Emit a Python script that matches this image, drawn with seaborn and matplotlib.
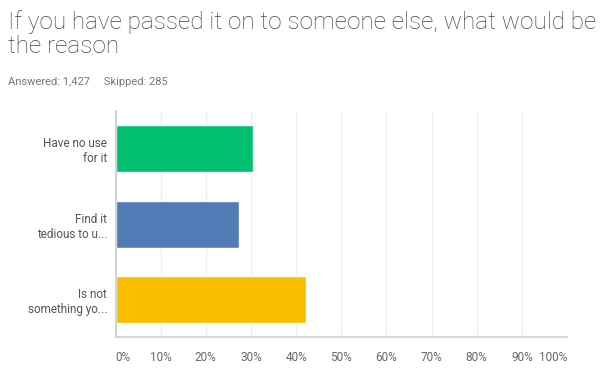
import matplotlib
matplotlib.use("Agg")
import matplotlib.pyplot as plt
import seaborn as sns
import pandas as pd

# --- data ---
answers = ["Have no use\nfor it", "Find it\ntedious to u...", "Is not\nsomething yo..."]
percent = [30.5, 27.4, 42.1]
bar_colors = ["#00BF6F", "#507CB6", "#F9BE00"]
x_ticks = [0, 10, 20, 30, 40, 50, 60, 70, 80, 90, 100]
x_labels = [f"{t}%" for t in x_ticks]

title = "If you have passed it on to someone else, what would be\nthe reason"
answered = 1427
skipped = 285

sns.set_theme(style="white")
plt.rcParams["font.family"] = ["Roboto", "DejaVu Sans"]

df = pd.DataFrame({"answer": answers, "percent": percent})

fig = plt.figure(figsize=(6, 3.85), dpi=100)
ax = fig.add_axes([0.1925, 0.1234, 0.7525, 0.5891])

sns.barplot(data=df, x="percent", y="answer", hue="answer", palette=bar_colors,
            width=0.62, legend=False, ax=ax, saturation=1)

ax.set_xlim(0, 100)
ax.set_ylim(2.5, -0.5)
ax.set_xticks(x_ticks)
ax.set_xticklabels(x_labels)
ax.set_xlabel("")
ax.set_ylabel("")

ax.grid(axis="x", color="#eeeeee", linewidth=1)
ax.set_axisbelow(True)
for side in ["top", "right"]:
    ax.spines[side].set_visible(False)
ax.spines["left"].set_color("#cccccc")
ax.spines["bottom"].set_color("#d5d5d5")
ax.spines["bottom"].set_linewidth(1.5)

ax.tick_params(axis="x", length=0, pad=10, labelsize=8.5, labelcolor="#666666")
ax.tick_params(axis="y", length=0, pad=6, labelsize=8.5, labelcolor="#555555")
for lbl in ax.get_yticklabels():
    lbl.set_horizontalalignment("right")
    lbl.set_multialignment("right")
xl = ax.get_xticklabels()
xl[0].set_horizontalalignment("left")
xl[-1].set_horizontalalignment("right")

fig.text(0.013, 0.975, title, ha="left", va="top", fontsize=17.5,
         fontweight="light", color="#444444", linespacing=1.1)
fig.text(0.013, 0.787, f"Answered: {answered:,}     Skipped: {skipped}",
         ha="left", va="center", fontsize=8, color="#777777")

fig.savefig("out.png", dpi=100)
